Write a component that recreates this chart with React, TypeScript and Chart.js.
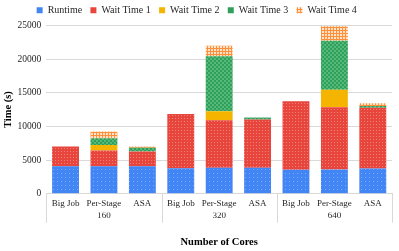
import React, { useEffect, useRef } from 'react';
import { Chart, registerables } from 'chart.js';

Chart.register(...registerables);

const categories = ['Big Job', 'Per-Stage', 'ASA', 'Big Job', 'Per-Stage', 'ASA', 'Big Job', 'Per-Stage', 'ASA'];
const groups = ['160', '320', '640'];
const groupSize = 3;
const seriesNames = ['Runtime', 'Wait Time 1', 'Wait Time 2', 'Wait Time 3', 'Wait Time 4'];
const runtime = [4100, 4100, 4100, 3800, 3850, 3850, 3550, 3600, 3750];
const waitTime1 = [2900, 2330, 2190, 8030, 7080, 7180, 10180, 9230, 9030];
const waitTime2 = [0, 820, 0, 0, 1300, 0, 0, 2590, 0];
const waitTime3 = [0, 980, 550, 0, 8190, 300, 0, 7290, 240];
const waitTime4 = [0, 1010, 160, 0, 1540, 0, 0, 2140, 410];
const yTicks = [0, 5000, 10000, 15000, 20000, 25000];

const FONT = "'Liberation Serif', 'Times New Roman', serif";
Chart.defaults.font.family = FONT;

function makePattern(size: number, draw: (c: CanvasRenderingContext2D) => void): CanvasPattern | string {
  const cv = document.createElement('canvas');
  cv.width = size;
  cv.height = size;
  const c = cv.getContext('2d');
  if (!c) return '#888';
  draw(c);
  const p = c.createPattern(cv, 'repeat');
  return p || '#888';
}

const groupSeparators = {
  id: 'groupSeparators',
  afterDraw(chart: any) {
    const x = chart.scales.x;
    if (!x) return;
    const half = (x.getPixelForValue(1) - x.getPixelForValue(0)) / 2;
    const ctx = chart.ctx;
    ctx.save();
    ctx.strokeStyle = '#D9D9D9';
    ctx.lineWidth = 1;
    const n = categories.length;
    for (let b = 0; b <= n; b += groupSize) {
      const px = b < n ? x.getPixelForValue(b) - half : x.getPixelForValue(n - 1) + half;
      const xx = Math.round(px) + 0.5;
      ctx.beginPath();
      ctx.moveTo(xx, x.top);
      ctx.lineTo(xx, x.top + 29);
      ctx.stroke();
    }
    ctx.restore();
  },
};

export default function App() {
  const ref = useRef<HTMLCanvasElement | null>(null);

  useEffect(() => {
    let chart: Chart | null = null;
    let cancelled = false;

    const build = () => {
      if (cancelled || !ref.current) return;
      const blue = makePattern(4, (c) => {
        c.fillStyle = '#4285F4';
        c.fillRect(0, 0, 4, 4);
        c.fillStyle = '#7FAAF6';
        c.fillRect(1, 1, 1, 1);
      });
      const red = makePattern(3, (c) => {
        c.fillStyle = '#E8453C';
        c.fillRect(0, 0, 3, 3);
        c.fillStyle = '#F08178';
        c.fillRect(1, 1, 1, 1);
      });
      const green = makePattern(4, (c) => {
        c.fillStyle = '#2FA05A';
        c.fillRect(0, 0, 4, 4);
        c.fillStyle = '#56B87A';
        c.fillRect(0, 0, 2, 2);
        c.fillRect(2, 2, 2, 2);
      });
      const orange = makePattern(3, (c) => {
        c.fillStyle = '#FFE3C8';
        c.fillRect(0, 0, 3, 3);
        c.fillStyle = '#FF8F3A';
        c.fillRect(0, 0, 3, 1);
        c.fillRect(0, 0, 1, 3);
      });
      const solid = ['#4285F4', '#E8453C', '#F4B400', '#2FA05A', '#FF9A4D'];
      const fills = [blue, red, '#F4B400', green, orange];
      const values = [runtime, waitTime1, waitTime2, waitTime3, waitTime4];

      chart = new Chart(ref.current, {
        type: 'bar',
        data: {
          labels: categories,
          datasets: seriesNames.map((name, i) => ({
            label: name,
            data: values[i],
            backgroundColor: fills[i] as any,
            borderWidth: 0,
            categoryPercentage: 1,
            barPercentage: 0.7,
          })),
        },
        plugins: [groupSeparators],
        options: {
          animation: false,
          responsive: true,
          maintainAspectRatio: false,
          layout: { padding: { left: 1.5, right: 7, top: -3, bottom: 2 } },
          plugins: {
            tooltip: { enabled: false },
            legend: {
              position: 'top',
              labels: {
                boxWidth: 6,
                boxHeight: 6,
                padding: 8.3,
                color: '#262626',
                font: { family: FONT, size: 10 },
                generateLabels: (ch: any) =>
                  ch.data.datasets.map((ds: any, i: number) => ({
                    text: ds.label,
                    fillStyle: i === 4 ? fills[4] : solid[i],
                    strokeStyle: 'rgba(0,0,0,0)',
                    lineWidth: 0,
                    hidden: false,
                    datasetIndex: i,
                    fontColor: '#262626',
                  })),
              },
            },
          },
          scales: {
            x: {
              stacked: true,
              offset: true,
              grid: { display: false, drawTicks: false },
              border: { display: true, color: '#D9D9D9' },
              ticks: {
                padding: 4,
                autoSkip: false,
                maxRotation: 0,
                color: '#262626',
                font: { family: FONT, size: 9 },
              },
            },
            x2: {
              type: 'category',
              labels: groups,
              position: 'bottom',
              offset: true,
              grid: { display: false, drawTicks: false },
              border: { display: false },
              ticks: { padding: -2, color: '#262626', font: { family: FONT, size: 9 } },
              title: {
                display: true,
                text: 'Number of Cores',
                color: '#000',
                font: { family: FONT, size: 10.5, weight: 'bold' },
                padding: { top: 17, bottom: 0 },
              },
            },
            y: {
              stacked: true,
              min: 0,
              max: 25000,
              afterBuildTicks: (axis: any) => {
                axis.ticks = yTicks.map((v) => ({ value: v }));
              },
              grid: { color: '#D9D9D9', drawTicks: false },
              border: { display: false },
              ticks: {
                padding: 5,
                color: '#262626',
                font: { family: FONT, size: 9.5 },
                callback: (v: any) => String(v),
              },
              title: {
                display: true,
                text: 'Time (s)',
                color: '#000',
                font: { family: FONT, size: 10.5, weight: 'bold' },
                padding: { top: 0, bottom: -1.5 },
              },
            },
          },
        } as any,
      });
    };

    const fontsApi: any = (document as any).fonts;
    if (fontsApi && fontsApi.load) {
      Promise.all([
        fontsApi.load('10px "Liberation Serif"'),
        fontsApi.load('bold 11px "Liberation Serif"'),
      ])
        .catch(() => null)
        .then(build);
    } else {
      build();
    }

    return () => {
      cancelled = true;
      if (chart) chart.destroy();
    };
  }, []);

  return (
    <div style={{ position: 'fixed', left: 0, top: 0, width: 399, height: 251 }}>
      <canvas ref={ref} />
    </div>
  );
}
